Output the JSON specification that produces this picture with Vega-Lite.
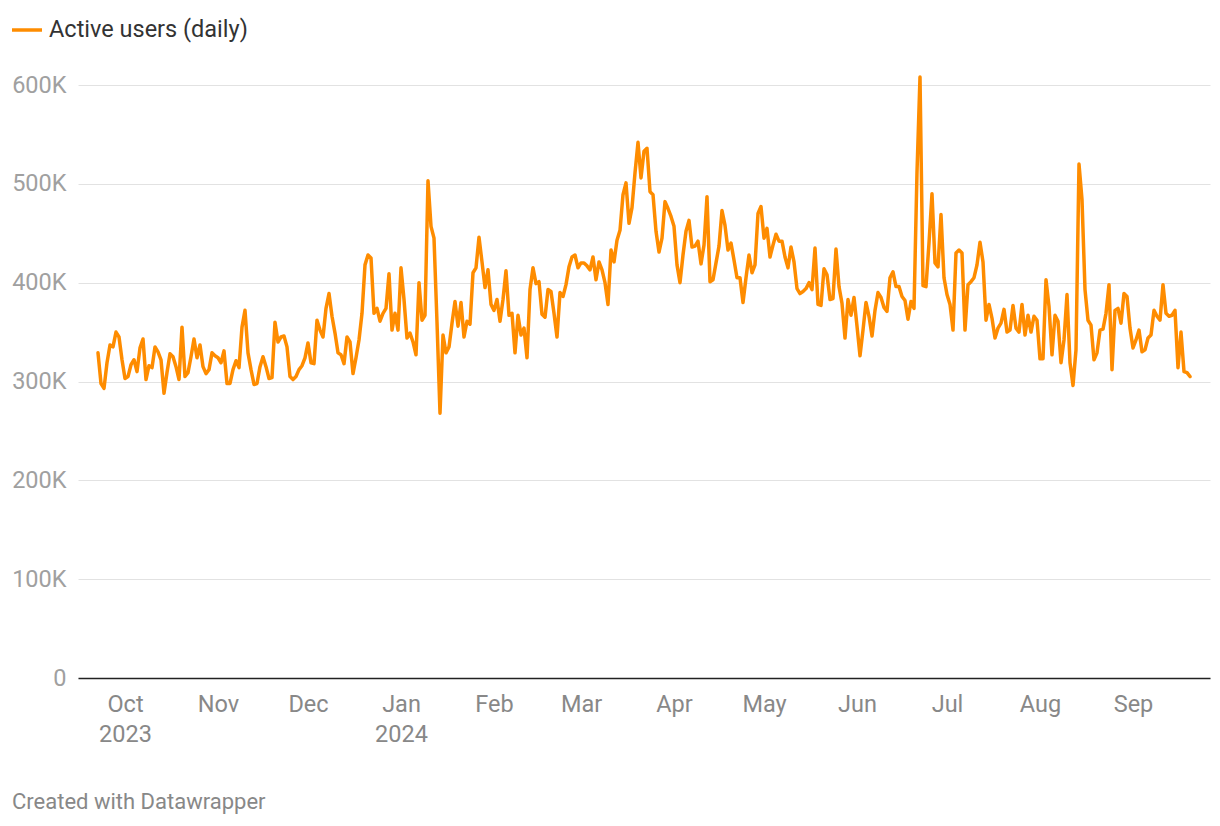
{
  "$schema": "https://vega.github.io/schema/vega-lite/v6.json",
  "width": 1132,
  "height": 593,
  "autosize": {"type": "none"},
  "padding": {"left": 78, "top": 85, "right": 10, "bottom": 148},
  "background": "#ffffff",
  "config": {
    "font": "Roboto",
    "view": {"stroke": null}
  },
  "title": {
    "text": "Created with Datawrapper",
    "orient": "bottom",
    "anchor": "start",
    "frame": "group",
    "dx": -66,
    "offset": 46,
    "fontSize": 22,
    "fontWeight": "normal",
    "color": "#888888",
    "font": "Roboto"
  },
  "data": {
    "values": [
      {"date": "2023-09-22", "users": 329000},
      {"date": "2023-09-23", "users": 298000},
      {"date": "2023-09-24", "users": 293000},
      {"date": "2023-09-25", "users": 319000},
      {"date": "2023-09-26", "users": 337000},
      {"date": "2023-09-27", "users": 335000},
      {"date": "2023-09-28", "users": 350000},
      {"date": "2023-09-29", "users": 345000},
      {"date": "2023-09-30", "users": 322000},
      {"date": "2023-10-01", "users": 303000},
      {"date": "2023-10-02", "users": 305000},
      {"date": "2023-10-03", "users": 317000},
      {"date": "2023-10-04", "users": 322000},
      {"date": "2023-10-05", "users": 310000},
      {"date": "2023-10-06", "users": 334000},
      {"date": "2023-10-07", "users": 343000},
      {"date": "2023-10-08", "users": 302000},
      {"date": "2023-10-09", "users": 316000},
      {"date": "2023-10-10", "users": 314000},
      {"date": "2023-10-11", "users": 335000},
      {"date": "2023-10-12", "users": 330000},
      {"date": "2023-10-13", "users": 322000},
      {"date": "2023-10-14", "users": 288000},
      {"date": "2023-10-15", "users": 309000},
      {"date": "2023-10-16", "users": 328000},
      {"date": "2023-10-17", "users": 325000},
      {"date": "2023-10-18", "users": 315000},
      {"date": "2023-10-19", "users": 302000},
      {"date": "2023-10-20", "users": 355000},
      {"date": "2023-10-21", "users": 305000},
      {"date": "2023-10-22", "users": 309000},
      {"date": "2023-10-23", "users": 325000},
      {"date": "2023-10-24", "users": 343000},
      {"date": "2023-10-25", "users": 324000},
      {"date": "2023-10-26", "users": 337000},
      {"date": "2023-10-27", "users": 315000},
      {"date": "2023-10-28", "users": 308000},
      {"date": "2023-10-29", "users": 312000},
      {"date": "2023-10-30", "users": 329000},
      {"date": "2023-10-31", "users": 326000},
      {"date": "2023-11-01", "users": 324000},
      {"date": "2023-11-02", "users": 319000},
      {"date": "2023-11-03", "users": 331000},
      {"date": "2023-11-04", "users": 298000},
      {"date": "2023-11-05", "users": 298000},
      {"date": "2023-11-06", "users": 312000},
      {"date": "2023-11-07", "users": 321000},
      {"date": "2023-11-08", "users": 314000},
      {"date": "2023-11-09", "users": 355000},
      {"date": "2023-11-10", "users": 372000},
      {"date": "2023-11-11", "users": 329000},
      {"date": "2023-11-12", "users": 312000},
      {"date": "2023-11-13", "users": 297000},
      {"date": "2023-11-14", "users": 298000},
      {"date": "2023-11-15", "users": 315000},
      {"date": "2023-11-16", "users": 325000},
      {"date": "2023-11-17", "users": 315000},
      {"date": "2023-11-18", "users": 303000},
      {"date": "2023-11-19", "users": 304000},
      {"date": "2023-11-20", "users": 360000},
      {"date": "2023-11-21", "users": 340000},
      {"date": "2023-11-22", "users": 345000},
      {"date": "2023-11-23", "users": 346000},
      {"date": "2023-11-24", "users": 335000},
      {"date": "2023-11-25", "users": 305000},
      {"date": "2023-11-26", "users": 302000},
      {"date": "2023-11-27", "users": 305000},
      {"date": "2023-11-28", "users": 312000},
      {"date": "2023-11-29", "users": 316000},
      {"date": "2023-11-30", "users": 324000},
      {"date": "2023-12-01", "users": 339000},
      {"date": "2023-12-02", "users": 319000},
      {"date": "2023-12-03", "users": 318000},
      {"date": "2023-12-04", "users": 362000},
      {"date": "2023-12-05", "users": 352000},
      {"date": "2023-12-06", "users": 345000},
      {"date": "2023-12-07", "users": 374000},
      {"date": "2023-12-08", "users": 389000},
      {"date": "2023-12-09", "users": 366000},
      {"date": "2023-12-10", "users": 349000},
      {"date": "2023-12-11", "users": 329000},
      {"date": "2023-12-12", "users": 327000},
      {"date": "2023-12-13", "users": 318000},
      {"date": "2023-12-14", "users": 345000},
      {"date": "2023-12-15", "users": 340000},
      {"date": "2023-12-16", "users": 308000},
      {"date": "2023-12-17", "users": 324000},
      {"date": "2023-12-18", "users": 342000},
      {"date": "2023-12-19", "users": 369000},
      {"date": "2023-12-20", "users": 418000},
      {"date": "2023-12-21", "users": 428000},
      {"date": "2023-12-22", "users": 425000},
      {"date": "2023-12-23", "users": 369000},
      {"date": "2023-12-24", "users": 374000},
      {"date": "2023-12-25", "users": 361000},
      {"date": "2023-12-26", "users": 369000},
      {"date": "2023-12-27", "users": 374000},
      {"date": "2023-12-28", "users": 409000},
      {"date": "2023-12-29", "users": 352000},
      {"date": "2023-12-30", "users": 369000},
      {"date": "2023-12-31", "users": 352000},
      {"date": "2024-01-01", "users": 415000},
      {"date": "2024-01-02", "users": 383000},
      {"date": "2024-01-03", "users": 344000},
      {"date": "2024-01-04", "users": 349000},
      {"date": "2024-01-05", "users": 340000},
      {"date": "2024-01-06", "users": 327000},
      {"date": "2024-01-07", "users": 400000},
      {"date": "2024-01-08", "users": 362000},
      {"date": "2024-01-09", "users": 367000},
      {"date": "2024-01-10", "users": 503000},
      {"date": "2024-01-11", "users": 457000},
      {"date": "2024-01-12", "users": 445000},
      {"date": "2024-01-13", "users": 360000},
      {"date": "2024-01-14", "users": 268000},
      {"date": "2024-01-15", "users": 347000},
      {"date": "2024-01-16", "users": 329000},
      {"date": "2024-01-17", "users": 335000},
      {"date": "2024-01-18", "users": 359000},
      {"date": "2024-01-19", "users": 381000},
      {"date": "2024-01-20", "users": 356000},
      {"date": "2024-01-21", "users": 380000},
      {"date": "2024-01-22", "users": 345000},
      {"date": "2024-01-23", "users": 361000},
      {"date": "2024-01-24", "users": 358000},
      {"date": "2024-01-25", "users": 410000},
      {"date": "2024-01-26", "users": 415000},
      {"date": "2024-01-27", "users": 446000},
      {"date": "2024-01-28", "users": 421000},
      {"date": "2024-01-29", "users": 395000},
      {"date": "2024-01-30", "users": 413000},
      {"date": "2024-01-31", "users": 378000},
      {"date": "2024-02-01", "users": 372000},
      {"date": "2024-02-02", "users": 383000},
      {"date": "2024-02-03", "users": 361000},
      {"date": "2024-02-04", "users": 383000},
      {"date": "2024-02-05", "users": 412000},
      {"date": "2024-02-06", "users": 367000},
      {"date": "2024-02-07", "users": 369000},
      {"date": "2024-02-08", "users": 329000},
      {"date": "2024-02-09", "users": 367000},
      {"date": "2024-02-10", "users": 347000},
      {"date": "2024-02-11", "users": 354000},
      {"date": "2024-02-12", "users": 324000},
      {"date": "2024-02-13", "users": 393000},
      {"date": "2024-02-14", "users": 415000},
      {"date": "2024-02-15", "users": 399000},
      {"date": "2024-02-16", "users": 401000},
      {"date": "2024-02-17", "users": 368000},
      {"date": "2024-02-18", "users": 365000},
      {"date": "2024-02-19", "users": 393000},
      {"date": "2024-02-20", "users": 391000},
      {"date": "2024-02-21", "users": 369000},
      {"date": "2024-02-22", "users": 345000},
      {"date": "2024-02-23", "users": 390000},
      {"date": "2024-02-24", "users": 386000},
      {"date": "2024-02-25", "users": 398000},
      {"date": "2024-02-26", "users": 416000},
      {"date": "2024-02-27", "users": 426000},
      {"date": "2024-02-28", "users": 428000},
      {"date": "2024-02-29", "users": 415000},
      {"date": "2024-03-01", "users": 420000},
      {"date": "2024-03-02", "users": 420000},
      {"date": "2024-03-03", "users": 417000},
      {"date": "2024-03-04", "users": 413000},
      {"date": "2024-03-05", "users": 426000},
      {"date": "2024-03-06", "users": 403000},
      {"date": "2024-03-07", "users": 421000},
      {"date": "2024-03-08", "users": 413000},
      {"date": "2024-03-09", "users": 400000},
      {"date": "2024-03-10", "users": 378000},
      {"date": "2024-03-11", "users": 433000},
      {"date": "2024-03-12", "users": 421000},
      {"date": "2024-03-13", "users": 443000},
      {"date": "2024-03-14", "users": 453000},
      {"date": "2024-03-15", "users": 489000},
      {"date": "2024-03-16", "users": 501000},
      {"date": "2024-03-17", "users": 460000},
      {"date": "2024-03-18", "users": 476000},
      {"date": "2024-03-19", "users": 511000},
      {"date": "2024-03-20", "users": 542000},
      {"date": "2024-03-21", "users": 506000},
      {"date": "2024-03-22", "users": 533000},
      {"date": "2024-03-23", "users": 536000},
      {"date": "2024-03-24", "users": 492000},
      {"date": "2024-03-25", "users": 489000},
      {"date": "2024-03-26", "users": 452000},
      {"date": "2024-03-27", "users": 431000},
      {"date": "2024-03-28", "users": 445000},
      {"date": "2024-03-29", "users": 482000},
      {"date": "2024-03-30", "users": 475000},
      {"date": "2024-03-31", "users": 467000},
      {"date": "2024-04-01", "users": 457000},
      {"date": "2024-04-02", "users": 418000},
      {"date": "2024-04-03", "users": 400000},
      {"date": "2024-04-04", "users": 428000},
      {"date": "2024-04-05", "users": 452000},
      {"date": "2024-04-06", "users": 463000},
      {"date": "2024-04-07", "users": 436000},
      {"date": "2024-04-08", "users": 437000},
      {"date": "2024-04-09", "users": 442000},
      {"date": "2024-04-10", "users": 419000},
      {"date": "2024-04-11", "users": 438000},
      {"date": "2024-04-12", "users": 487000},
      {"date": "2024-04-13", "users": 401000},
      {"date": "2024-04-14", "users": 403000},
      {"date": "2024-04-15", "users": 420000},
      {"date": "2024-04-16", "users": 437000},
      {"date": "2024-04-17", "users": 473000},
      {"date": "2024-04-18", "users": 458000},
      {"date": "2024-04-19", "users": 433000},
      {"date": "2024-04-20", "users": 440000},
      {"date": "2024-04-21", "users": 423000},
      {"date": "2024-04-22", "users": 405000},
      {"date": "2024-04-23", "users": 405000},
      {"date": "2024-04-24", "users": 380000},
      {"date": "2024-04-25", "users": 405000},
      {"date": "2024-04-26", "users": 428000},
      {"date": "2024-04-27", "users": 410000},
      {"date": "2024-04-28", "users": 418000},
      {"date": "2024-04-29", "users": 470000},
      {"date": "2024-04-30", "users": 477000},
      {"date": "2024-05-01", "users": 445000},
      {"date": "2024-05-02", "users": 455000},
      {"date": "2024-05-03", "users": 426000},
      {"date": "2024-05-04", "users": 438000},
      {"date": "2024-05-05", "users": 449000},
      {"date": "2024-05-06", "users": 442000},
      {"date": "2024-05-07", "users": 442000},
      {"date": "2024-05-08", "users": 426000},
      {"date": "2024-05-09", "users": 415000},
      {"date": "2024-05-10", "users": 436000},
      {"date": "2024-05-11", "users": 421000},
      {"date": "2024-05-12", "users": 394000},
      {"date": "2024-05-13", "users": 389000},
      {"date": "2024-05-14", "users": 391000},
      {"date": "2024-05-15", "users": 394000},
      {"date": "2024-05-16", "users": 400000},
      {"date": "2024-05-17", "users": 393000},
      {"date": "2024-05-18", "users": 435000},
      {"date": "2024-05-19", "users": 378000},
      {"date": "2024-05-20", "users": 377000},
      {"date": "2024-05-21", "users": 414000},
      {"date": "2024-05-22", "users": 408000},
      {"date": "2024-05-23", "users": 383000},
      {"date": "2024-05-24", "users": 384000},
      {"date": "2024-05-25", "users": 434000},
      {"date": "2024-05-26", "users": 396000},
      {"date": "2024-05-27", "users": 379000},
      {"date": "2024-05-28", "users": 344000},
      {"date": "2024-05-29", "users": 383000},
      {"date": "2024-05-30", "users": 367000},
      {"date": "2024-05-31", "users": 385000},
      {"date": "2024-06-01", "users": 356000},
      {"date": "2024-06-02", "users": 326000},
      {"date": "2024-06-03", "users": 352000},
      {"date": "2024-06-04", "users": 380000},
      {"date": "2024-06-05", "users": 366000},
      {"date": "2024-06-06", "users": 346000},
      {"date": "2024-06-07", "users": 372000},
      {"date": "2024-06-08", "users": 390000},
      {"date": "2024-06-09", "users": 385000},
      {"date": "2024-06-10", "users": 375000},
      {"date": "2024-06-11", "users": 371000},
      {"date": "2024-06-12", "users": 405000},
      {"date": "2024-06-13", "users": 411000},
      {"date": "2024-06-14", "users": 396000},
      {"date": "2024-06-15", "users": 396000},
      {"date": "2024-06-16", "users": 386000},
      {"date": "2024-06-17", "users": 382000},
      {"date": "2024-06-18", "users": 363000},
      {"date": "2024-06-19", "users": 381000},
      {"date": "2024-06-20", "users": 374000},
      {"date": "2024-06-21", "users": 512000},
      {"date": "2024-06-22", "users": 608000},
      {"date": "2024-06-23", "users": 397000},
      {"date": "2024-06-24", "users": 396000},
      {"date": "2024-06-25", "users": 440000},
      {"date": "2024-06-26", "users": 490000},
      {"date": "2024-06-27", "users": 420000},
      {"date": "2024-06-28", "users": 416000},
      {"date": "2024-06-29", "users": 469000},
      {"date": "2024-06-30", "users": 405000},
      {"date": "2024-07-01", "users": 388000},
      {"date": "2024-07-02", "users": 378000},
      {"date": "2024-07-03", "users": 352000},
      {"date": "2024-07-04", "users": 430000},
      {"date": "2024-07-05", "users": 433000},
      {"date": "2024-07-06", "users": 430000},
      {"date": "2024-07-07", "users": 352000},
      {"date": "2024-07-08", "users": 398000},
      {"date": "2024-07-09", "users": 401000},
      {"date": "2024-07-10", "users": 405000},
      {"date": "2024-07-11", "users": 418000},
      {"date": "2024-07-12", "users": 441000},
      {"date": "2024-07-13", "users": 421000},
      {"date": "2024-07-14", "users": 362000},
      {"date": "2024-07-15", "users": 378000},
      {"date": "2024-07-16", "users": 364000},
      {"date": "2024-07-17", "users": 344000},
      {"date": "2024-07-18", "users": 354000},
      {"date": "2024-07-19", "users": 359000},
      {"date": "2024-07-20", "users": 373000},
      {"date": "2024-07-21", "users": 350000},
      {"date": "2024-07-22", "users": 352000},
      {"date": "2024-07-23", "users": 377000},
      {"date": "2024-07-24", "users": 354000},
      {"date": "2024-07-25", "users": 350000},
      {"date": "2024-07-26", "users": 378000},
      {"date": "2024-07-27", "users": 347000},
      {"date": "2024-07-28", "users": 367000},
      {"date": "2024-07-29", "users": 350000},
      {"date": "2024-07-30", "users": 366000},
      {"date": "2024-07-31", "users": 362000},
      {"date": "2024-08-01", "users": 323000},
      {"date": "2024-08-02", "users": 323000},
      {"date": "2024-08-03", "users": 403000},
      {"date": "2024-08-04", "users": 376000},
      {"date": "2024-08-05", "users": 327000},
      {"date": "2024-08-06", "users": 367000},
      {"date": "2024-08-07", "users": 361000},
      {"date": "2024-08-08", "users": 319000},
      {"date": "2024-08-09", "users": 342000},
      {"date": "2024-08-10", "users": 388000},
      {"date": "2024-08-11", "users": 319000},
      {"date": "2024-08-12", "users": 296000},
      {"date": "2024-08-13", "users": 332000},
      {"date": "2024-08-14", "users": 520000},
      {"date": "2024-08-15", "users": 484000},
      {"date": "2024-08-16", "users": 393000},
      {"date": "2024-08-17", "users": 362000},
      {"date": "2024-08-18", "users": 357000},
      {"date": "2024-08-19", "users": 322000},
      {"date": "2024-08-20", "users": 329000},
      {"date": "2024-08-21", "users": 352000},
      {"date": "2024-08-22", "users": 353000},
      {"date": "2024-08-23", "users": 369000},
      {"date": "2024-08-24", "users": 398000},
      {"date": "2024-08-25", "users": 312000},
      {"date": "2024-08-26", "users": 372000},
      {"date": "2024-08-27", "users": 374000},
      {"date": "2024-08-28", "users": 359000},
      {"date": "2024-08-29", "users": 389000},
      {"date": "2024-08-30", "users": 386000},
      {"date": "2024-08-31", "users": 354000},
      {"date": "2024-09-01", "users": 334000},
      {"date": "2024-09-02", "users": 342000},
      {"date": "2024-09-03", "users": 352000},
      {"date": "2024-09-04", "users": 330000},
      {"date": "2024-09-05", "users": 332000},
      {"date": "2024-09-06", "users": 344000},
      {"date": "2024-09-07", "users": 347000},
      {"date": "2024-09-08", "users": 372000},
      {"date": "2024-09-09", "users": 366000},
      {"date": "2024-09-10", "users": 362000},
      {"date": "2024-09-11", "users": 398000},
      {"date": "2024-09-12", "users": 369000},
      {"date": "2024-09-13", "users": 366000},
      {"date": "2024-09-14", "users": 367000},
      {"date": "2024-09-15", "users": 372000},
      {"date": "2024-09-16", "users": 314000},
      {"date": "2024-09-17", "users": 350000},
      {"date": "2024-09-18", "users": 310000},
      {"date": "2024-09-19", "users": 309000},
      {"date": "2024-09-20", "users": 305000}
    ]
  },
  "mark": {
    "type": "line",
    "strokeWidth": 3.5,
    "strokeJoin": "round",
    "strokeCap": "round",
    "clip": false
  },
  "encoding": {
    "x": {
      "field": "date",
      "type": "temporal",
      "scale": {
        "type": "utc",
        "domain": [
          {"year": 2023, "month": 9, "date": 15, "hours": 8, "utc": true},
          {"year": 2024, "month": 9, "date": 26, "hours": 16, "utc": true}
        ]
      },
      "axis": {
        "title": null,
        "tickCount": {"interval": "month", "step": 1},
        "labelExpr": "(utcmonth(datum.value) == 0 || (utcyear(datum.value) == 2023 && utcmonth(datum.value) == 9)) ? [utcFormat(datum.value, '%b'), utcFormat(datum.value, '%Y')] : utcFormat(datum.value, '%b')",
        "labelFontSize": 23.5,
        "labelColor": "#888888",
        "labelFont": "Roboto",
        "labelPadding": 14,
        "labelLineHeight": 30,
        "labelBaseline": "top",
        "labelOverlap": false,
        "labelFlush": false,
        "ticks": false,
        "grid": false,
        "domain": true,
        "domainColor": "#222222",
        "domainWidth": 1.5
      }
    },
    "y": {
      "field": "users",
      "type": "quantitative",
      "scale": {"domain": [0, 600000], "nice": false},
      "axis": {
        "title": null,
        "values": [0, 100000, 200000, 300000, 400000, 500000, 600000],
        "labelExpr": "datum.value == 0 ? '0' : format(datum.value / 1000, 'd') + 'K'",
        "labelFontSize": 23.5,
        "labelColor": "#a0a0a0",
        "labelFont": "Roboto",
        "labelPadding": 12,
        "ticks": false,
        "domain": false,
        "grid": true,
        "gridColor": "#e2e2e2",
        "gridWidth": 1
      }
    },
    "color": {
      "datum": "Active users (daily)",
      "type": "nominal",
      "scale": {"range": ["#fe8c00"]},
      "legend": {
        "title": null,
        "orient": "none",
        "legendX": -68,
        "legendY": -72,
        "symbolType": "stroke",
        "symbolSize": 900,
        "symbolStrokeWidth": 3.5,
        "labelFontSize": 23.5,
        "labelColor": "#333333",
        "labelFont": "Roboto",
        "labelOffset": 5,
        "labelLimit": 0,
        "padding": 0
      }
    }
  }
}
